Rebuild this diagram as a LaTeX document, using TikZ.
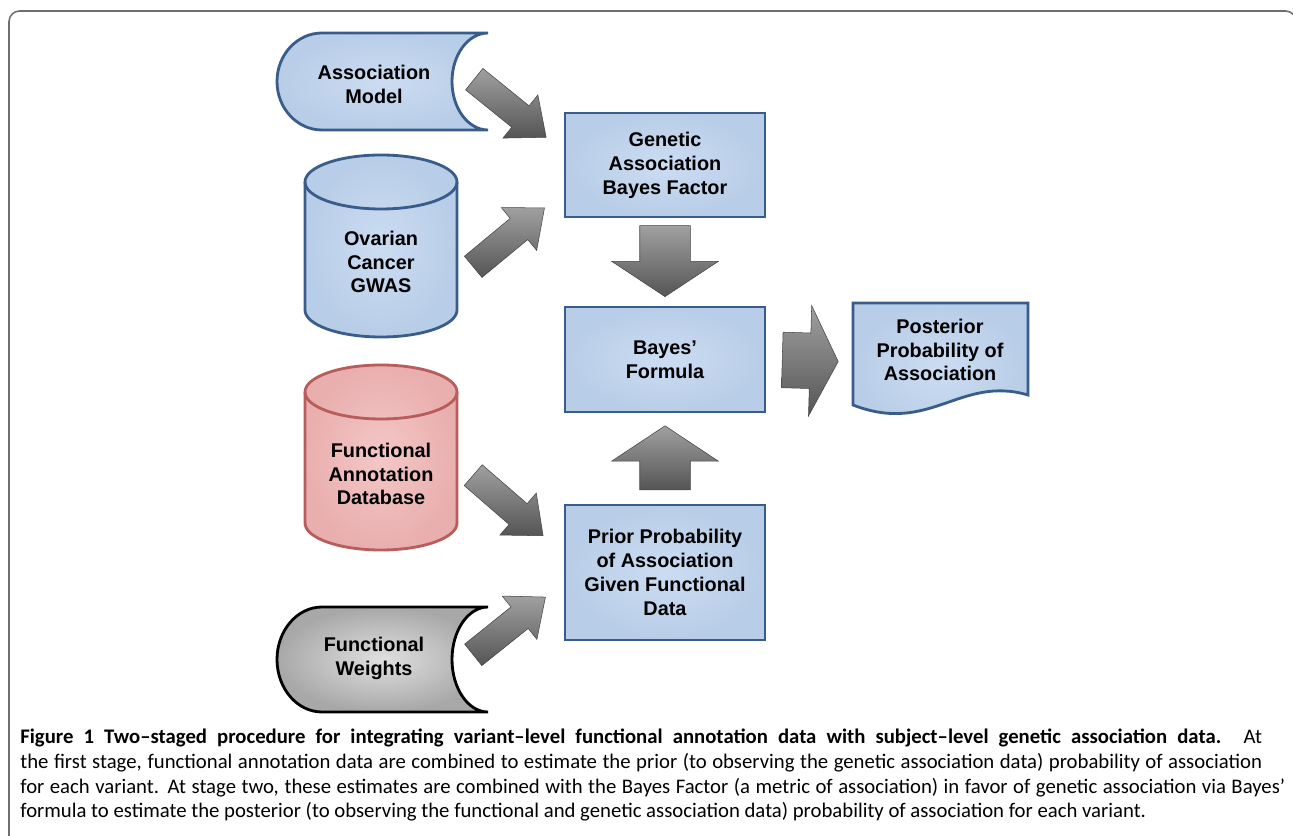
\documentclass[tikz,border=0pt]{standalone}
\usepackage{fontspec}
\setmainfont{Liberation Sans}
\newfontfamily\capfont{Carlito}
\usetikzlibrary{shapes.arrows}

\definecolor{boxblue}{HTML}{C6D9F1}
\definecolor{edgeblue}{HTML}{385D8A}
\definecolor{boxred}{HTML}{F2BDBD}
\definecolor{edgered}{HTML}{B85C5C}
\definecolor{boxgrey}{HTML}{D2D2D2}
\definecolor{arrowlight}{HTML}{A0A0A0}
\definecolor{arrowdark}{HTML}{555555}
\definecolor{framegrey}{HTML}{6E6E6E}

\tikzset{
  lbl/.style={font=\bfseries\fontsize{11.3}{13.6}\selectfont, align=center, text=black, inner sep=0pt},
  stepbox/.style={lbl, draw=edgeblue, line width=1.6pt, inner color=boxblue!90!white, outer color=boxblue!90!edgeblue, minimum width=4cm},
  barrow/.style={single arrow, inner xsep=0pt, sloped, allow upside down, anchor=tail, top color=arrowlight, bottom color=arrowdark, draw=arrowdark!80!black, line width=0.3pt},
  diagarrow/.style={barrow, minimum height=1.85cm, inner ysep=0.27cm, single arrow head extend=0.28cm, single arrow tip angle=80},
  capline/.style={anchor=base west, inner sep=0pt, font=\capfont\fontsize{11.8}{14}\selectfont}
}

\begin{document}
\begin{tikzpicture}[x=0.02cm, y=0.02cm]
\useasboundingbox (0,0) rectangle (1293,835);
% frame
\draw[framegrey, line width=0.9pt, rounded corners=6] (9,-20) -- (9,824) -- (1296,824) -- (1296,-20);

% stored data inputs
\shadedraw[inner color=boxblue!90!white, outer color=boxblue!90!edgeblue, draw=edgeblue, line width=1.6pt] (322,802) -- (488,802) arc[start angle=90, end angle=270, x radius=36, y radius=48.5] -- (322,705) arc[start angle=270, end angle=90, x radius=45, y radius=48.5] -- cycle;
\shadedraw[inner color=boxgrey!70!white, outer color=boxgrey!80!black, draw=black, line width=1.6pt] (322,228) -- (488,228) arc[start angle=90, end angle=270, x radius=36, y radius=52.5] -- (322,123) arc[start angle=270, end angle=90, x radius=45, y radius=52.5] -- cycle;

% cylinders
\shadedraw[inner color=boxblue!90!white, outer color=boxblue!90!edgeblue, draw=edgeblue, line width=1.6pt] (305,653) -- (305,525) arc[start angle=180, end angle=360, x radius=76, y radius=27] -- (457,653) arc[start angle=0, end angle=180, x radius=76, y radius=27] -- cycle;
\draw[edgeblue, line width=1.6pt] (305,653) arc[start angle=180, end angle=360, x radius=76, y radius=27];
\shadedraw[inner color=boxred!85!white, outer color=boxred!85!edgered, draw=edgered, line width=1.6pt] (305,443) -- (305,312) arc[start angle=180, end angle=360, x radius=76, y radius=27] -- (457,443) arc[start angle=0, end angle=180, x radius=76, y radius=27] -- cycle;
\draw[edgered, line width=1.6pt] (305,443) arc[start angle=180, end angle=360, x radius=76, y radius=27];

% posterior document
\shadedraw[inner color=boxblue!90!white, outer color=boxblue!90!edgeblue, draw=edgeblue, line width=1.6pt] (853,532) -- (1028,532) -- (1028,440) .. controls (960,460) and (930,400) .. (853,430) -- cycle;

% labels and boxes
\node[lbl] (am) at (374,751) {Association\\Model};
\node[lbl] (gwas) at (381,573) {Ovarian\\Cancer\\GWAS};
\node[lbl] (fadb) at (381,361) {Functional\\Annotation\\Database};
\node[lbl] (fw) at (374,177) {Functional\\Weights};
\node[stepbox, minimum height=2.08cm] (gab) at (665,670) {Genetic\\Association\\Bayes Factor};
\node[stepbox, minimum height=2.1cm] (bf) at (665,475.5) {Bayes’\\Formula};
\node[stepbox, minimum height=2.7cm] (prior) at (665,262.5) {Prior Probability\\of Association\\Given Functional\\Data};
\node[lbl] (post) at (940,485) {Posterior\\Probability of\\Association};
\coordinate (postw) at (853,473);

% block arrows
\coordinate (a1s) at (474,756);
\coordinate (a1e) at (547,697);
\coordinate (a2s) at (473,568);
\coordinate (a2e) at (548,630);
\coordinate (a3s) at (473,360);
\coordinate (a3e) at (548,295);
\coordinate (a4s) at (473,180);
\coordinate (a4e) at (548,240);
\path (a1s) -- (a1e) node[pos=0, diagarrow] {};
\path (a2s) -- (a2e) node[pos=0, diagarrow] {};
\path (a3s) -- (a3e) node[pos=0, diagarrow] {};
\path (a4s) -- (a4e) node[pos=0, diagarrow] {};
\path (gab.south) -- (bf.north) node[pos=0.08, barrow, minimum height=1.42cm, inner ysep=0.5cm, single arrow head extend=0.56cm, single arrow tip angle=113] {};
\path (prior.north) -- (bf.south) node[pos=0.15, barrow, minimum height=1.28cm, inner ysep=0.5cm, single arrow head extend=0.56cm, single arrow tip angle=113] {};
\path (bf.east) -- (postw) node[pos=0.18, barrow, minimum height=1.12cm, inner ysep=0.55cm, single arrow head extend=0.55cm, single arrow tip angle=126] {};

% caption
\node[capline] (cap1) at (20,92) {\makebox[24.84cm][s]{\textbf{Figure 1 Two–staged procedure for integrating variant–level functional annotation data with subject–level genetic association data.} At}};
\node[capline] (cap2) at (20,67) {\makebox[24.84cm][s]{the first stage, functional annotation data are combined to estimate the prior (to observing the genetic association data) probability of association}};
\node[capline] (cap3) at (20,42) {\makebox[25.3cm][s]{for each variant. At stage two, these estimates are combined with the Bayes Factor (a metric of association) in favor of genetic association via Bayes’}};
\node[capline] (cap4) at (20,18) {formula to estimate the posterior (to observing the functional and genetic association data) probability of association for each variant.};
\end{tikzpicture}
\end{document}
